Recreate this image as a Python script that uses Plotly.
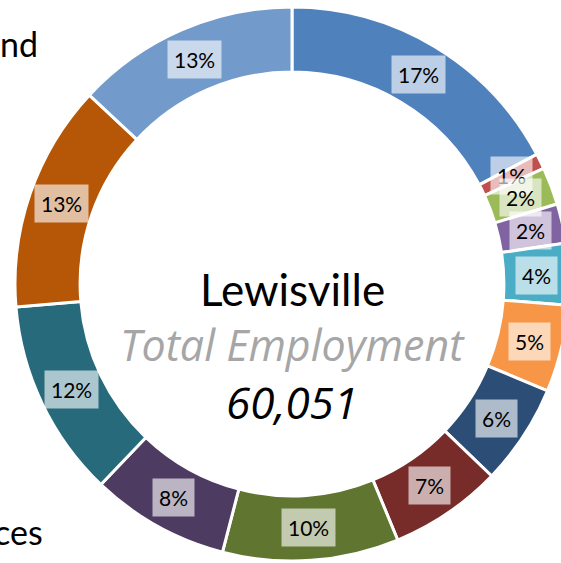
import math
import plotly.graph_objects as go

# share of total employment by sector, clockwise from 12 o'clock
sectors = ["S1", "S2", "S3", "S4", "S5", "S6", "S7", "S8", "S9", "S10", "S11", "S12", "S13"]
shares = [17.3, 0.9, 2.2, 2.3, 3.6, 5.1, 5.9, 6.6, 10.3, 8.1, 11.6, 13.3, 13.1]
colors = ["#4F81BD", "#C0504D", "#9BBB59", "#8064A2", "#4BACC6", "#F79646",
          "#2C4D75", "#772C2A", "#5F7530", "#4D3B62", "#276A7C", "#B65708", "#729ACA"]

city = "Lewisville"
subtitle = "Total Employment"
total = 60051
side_labels = ["nd", "ces"]

W, H = 584, 563
cx, cy = 292, 284
r_out = 277
hole = 0.765
r_mid = r_out * (1 + hole) / 2

font = "Lato, Calibri, sans-serif"
font_it = "Open Sans, Calibri, sans-serif"

fig = go.Figure(go.Pie(
    labels=sectors, values=shares, sort=False, direction="clockwise", rotation=0,
    hole=hole, marker=dict(colors=colors, line=dict(color="white", width=3)),
    textinfo="none", hoverinfo="label+percent",
    domain=dict(x=[0, 1], y=[(H - cy - r_out) / H, (H - cy + r_out) / H]),
))

# percentage tags in boxes, placed at the middle of each ring segment
tot = sum(shares)
cum = 0
for v in shares:
    a = 2 * math.pi * (cum + v / 2) / tot
    cum += v
    fig.add_annotation(
        x=(cx + r_mid * math.sin(a)) / W, y=(H - cy + r_mid * math.cos(a)) / H,
        xref="paper", yref="paper", showarrow=False, xanchor="center", yanchor="middle",
        text=f"{round(100 * v / tot)}%", font=dict(family=font, size=21, color="black"),
        bgcolor="rgba(255,255,255,0.62)", borderpad=6,
    )

def centre_text(txt, ypx, fam, size, color):
    fig.add_annotation(x=cx / W, y=1 - ypx / H, xref="paper", yref="paper", showarrow=False,
                       xanchor="center", yanchor="middle", text=txt,
                       font=dict(family=fam, size=size, color=color))

centre_text(city, 289, font, 44, "black")
centre_text(f"<i>{subtitle}</i>", 344, font_it, 43, "#A6A6A6")
centre_text(f"<i>{total:,}</i>", 402, font_it, 44, "black")

fig.add_annotation(x=40 / W, y=1 - 44 / H, xref="paper", yref="paper", showarrow=False,
                   xanchor="right", yanchor="middle", text=side_labels[0],
                   font=dict(family=font, size=34, color="black"))
fig.add_annotation(x=45 / W, y=1 - 531 / H, xref="paper", yref="paper", showarrow=False,
                   xanchor="right", yanchor="middle", text=side_labels[1],
                   font=dict(family=font, size=34, color="black"))

fig.update_layout(width=W, height=H, margin=dict(l=0, r=0, t=0, b=0),
                  showlegend=False, paper_bgcolor="white", plot_bgcolor="white")

fig.write_html("out.html", config={"displayModeBar": False},
               post_script="document.body.style.margin='0';document.body.style.overflow='hidden';")
